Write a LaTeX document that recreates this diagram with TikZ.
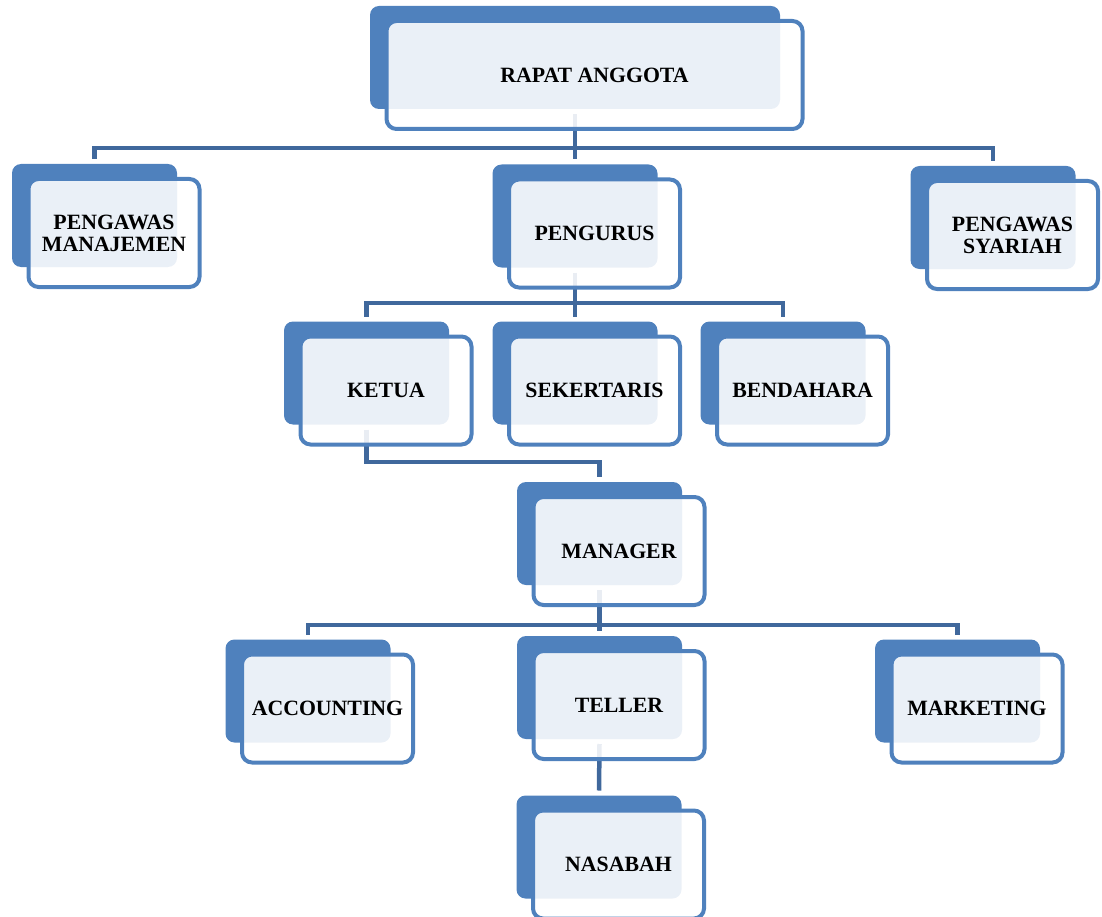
\documentclass[tikz,border=0pt]{standalone}
\usepackage{fontspec}
\setmainfont{Liberation Serif}
\pgfdeclarelayer{bg}
\pgfsetlayers{bg,main}
\definecolor{boxblue}{RGB}{79,129,189}
\definecolor{linkblue}{RGB}{64,104,156}
\tikzset{
  backbox/.style={rectangle, rounded corners=9pt, fill=boxblue, draw=none,
    minimum height=103pt, inner sep=0pt, outer sep=0pt},
  frontbox/.style={rectangle, rounded corners=10pt, draw=boxblue, line width=4pt,
    fill=white, fill opacity=0.886, text opacity=1, minimum height=108pt,
    inner sep=0pt, outer sep=0pt, align=center,
    font=\fontsize{21.8}{22}\selectfont\bfseries},
  conn/.style={draw=linkblue, line width=4.5pt}
}
\newcommand\orgunit[6]{% name, x, y, back width, front width, text
  \node[backbox, minimum width=#4] (#1) at (#2,#3) {};
  \node[frontbox, minimum width=#5, xshift=19.5pt, yshift=-17.5pt] (#1-f) at (#1.center) {#6};
}
\begin{document}
\begin{tikzpicture}[x=1pt,y=-1pt]
\useasboundingbox (0,0) rectangle (1102,917);
\orgunit{rapat}{575}{57.5}{410pt}{416pt}{RAPAT ANGGOTA}
\orgunit{pm}{94.5}{215.5}{165pt}{171pt}{PENGAWAS\\MANAJEMEN}
\orgunit{pengurus}{575}{216}{165pt}{171pt}{PENGURUS}
\orgunit{ps}{993}{217.5}{165pt}{171pt}{PENGAWAS\\SYARIAH}
\orgunit{ketua}{366.5}{373}{165pt}{171pt}{KETUA}
\orgunit{sek}{575}{373}{165pt}{171pt}{SEKERTARIS}
\orgunit{bend}{783}{373}{165pt}{171pt}{BENDAHARA}
\orgunit{manager}{599.5}{533.5}{165pt}{171pt}{MANAGER}
\orgunit{acc}{308}{691}{165pt}{171pt}{ACCOUNTING}
\orgunit{teller}{599.5}{687.5}{165pt}{171pt}{TELLER}
\orgunit{mark}{957.5}{691}{165pt}{171pt}{MARKETING}
\orgunit{nasabah}{599}{847}{165pt}{171pt}{NASABAH}
\coordinate (bar1) at (0,148);
\coordinate (bar2) at (0,303);
\coordinate (bar3) at (0,462);
\coordinate (bar4) at (0,625);
\begin{pgfonlayer}{bg}
\draw[conn] ([yshift=-5pt]rapat.south) -- ([yshift=5pt]pengurus.north);
\draw[conn] ([yshift=5pt]pm.north) -- (pm.north |- bar1) -- (ps.north |- bar1) -- ([yshift=5pt]ps.north);
\draw[conn] ([yshift=-5pt]pengurus.south) -- ([yshift=5pt]sek.north);
\draw[conn] ([yshift=5pt]ketua.north) -- (ketua.north |- bar2) -- (bend.north |- bar2) -- ([yshift=5pt]bend.north);
\draw[conn] ([yshift=-5pt]ketua.south) -- (ketua.south |- bar3) -- (manager.north |- bar3) -- ([yshift=5pt]manager.north);
\draw[conn] ([yshift=-5pt]manager.south) -- ([yshift=5pt]teller.north);
\draw[conn] ([yshift=5pt]acc.north) -- (acc.north |- bar4) -- (mark.north |- bar4) -- ([yshift=5pt]mark.north);
\draw[conn] ([yshift=-5pt]teller.south) -- ([yshift=5pt]nasabah.north);
\end{pgfonlayer}
\end{tikzpicture}
\end{document}
